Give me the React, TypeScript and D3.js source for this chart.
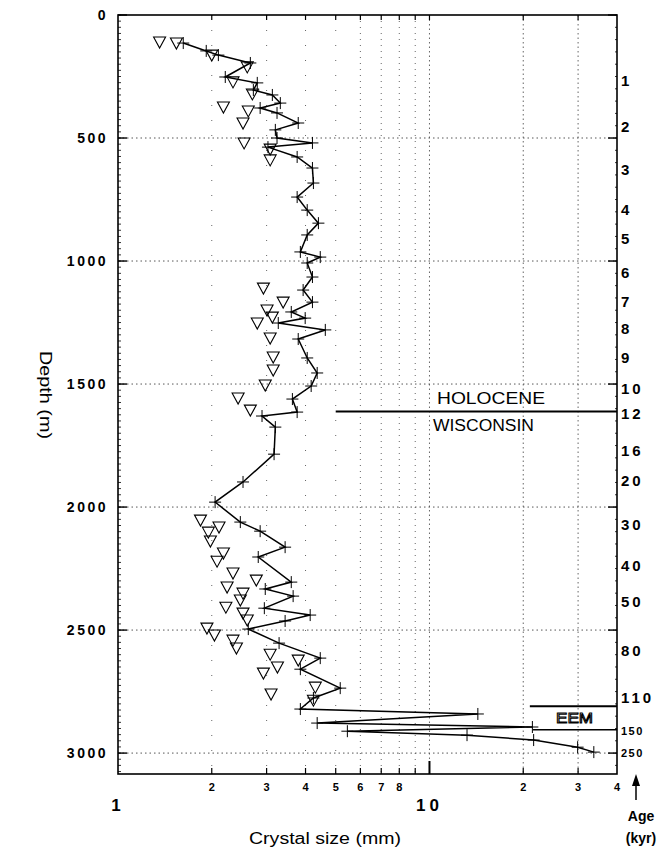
import React from 'react';
import * as d3 from 'd3';

// ---- data ----
const depthTicks = [0, 500, 1000, 1500, 2000, 2500, 3000];
const sizeGrid = [2, 3, 4, 5, 6, 7, 8, 9, 10, 20, 30];
const sizeSmallTicks = [2, 3, 4, 5, 6, 7, 8, 20, 30, 40];
const sizeSmallText = ['2', '3', '4', '5', '6', '7', '8', '2', '3', '4'];
const sizeBigTicks = [1, 10];
const sizeBigText = ['1', '10'];

const lineDepth = [114, 146, 163, 195, 252, 276, 305, 325, 358, 378, 398, 439, 467, 500, 520, 537, 577, 622, 683, 740, 793, 846, 894, 963, 984, 1008, 1065, 1118, 1167, 1207, 1232, 1252, 1280, 1317, 1394, 1455, 1508, 1561, 1614, 1630, 1675, 1785, 1898, 1980, 2061, 2098, 2163, 2203, 2305, 2333, 2362, 2411, 2439, 2463, 2496, 2553, 2614, 2659, 2736, 2776, 2821, 2841, 2878, 2894, 2911, 2927, 2947, 2976, 2996];
const lineSize = [1.62, 1.92, 2.10, 2.66, 2.21, 2.80, 2.72, 3.13, 3.32, 2.86, 3.24, 3.79, 3.20, 3.24, 4.21, 3.03, 3.76, 4.21, 4.24, 3.76, 4.05, 4.40, 4.05, 3.85, 4.46, 4.05, 4.21, 3.93, 4.21, 3.60, 3.99, 3.27, 4.63, 3.79, 4.05, 4.36, 4.17, 3.63, 3.76, 2.90, 3.20, 3.17, 2.52, 2.05, 2.47, 2.86, 3.44, 2.82, 3.60, 2.97, 3.65, 2.95, 4.14, 3.44, 2.62, 3.29, 4.46, 3.85, 5.17, 4.24, 3.85, 14.3, 4.36, 21.4, 5.45, 13.2, 21.6, 29.9, 33.7];

const triDepth = [110, 114, 163, 211, 272, 321, 374, 390, 439, 520, 545, 589, 1110, 1167, 1199, 1228, 1252, 1313, 1390, 1443, 1504, 1557, 1606, 2053, 2081, 2102, 2138, 2187, 2220, 2268, 2325, 2297, 2350, 2378, 2407, 2431, 2459, 2492, 2520, 2541, 2573, 2598, 2622, 2650, 2675, 2732, 2760, 2785];
const triSize = [1.36, 1.54, 2.00, 2.60, 2.34, 2.70, 2.18, 2.62, 2.52, 2.54, 3.08, 3.08, 2.93, 3.39, 3.01, 3.13, 2.80, 3.08, 3.15, 3.15, 2.97, 2.43, 2.66, 1.84, 2.11, 1.95, 1.98, 2.18, 2.08, 2.34, 2.24, 2.78, 2.52, 2.47, 2.22, 2.52, 2.60, 1.93, 2.04, 2.34, 2.40, 3.08, 3.79, 3.25, 2.93, 4.30, 3.10, 4.24];

const ageDepth = [268, 455, 630, 789, 907, 1045, 1163, 1276, 1394, 1520, 1622, 1772, 1894, 2073, 2236, 2386, 2585, 2776, 2911, 3000];
const ageText = ['1', '2', '3', '4', '5', '6', '7', '8', '9', '10', '12', '16', '20', '30', '40', '50', '80', '110', '150', '250'];

const boundaryDepth = [1612, 2810, 2905];
const boundaryFrom = [5, 21, 21.5];
const boundaryText = ['HOLOCENE', 'WISCONSIN', 'EEM'];

export default function App() {
  const W = 662, H = 852;
  const x = d3.scaleLog().domain([1, 40]).range([118, 617]);
  const y = d3.scaleLinear().domain([0, 3085]).range([15, 774]);
  const [x0, x1] = x.range();
  const [y0, y1] = y.range();

  const pts = lineDepth.map((d, i) => [lineSize[i], d] as [number, number]);
  const line = d3.line<[number, number]>().x(p => x(p[0])).y(p => y(p[1]));

  const font = "'Liberation Sans', Arial, Helvetica, sans-serif";
  const minorDepths = d3.range(0, 3085, 25);
  const rightMinor = d3.range(0, 3085, 50);

  return (
    <svg width={W} height={H} style={{ position: 'absolute', left: 0, top: 0, background: '#fff' }} fontFamily={font}>
      <rect width={W} height={H} fill="#fff" />
      {/* horizontal grid */}
      {depthTicks.slice(1).map(d => (
        <line key={'hg' + d} x1={x0} x2={x1} y1={y(d)} y2={y(d)} stroke="#444" strokeWidth={0.9} strokeDasharray="1.5,3" />
      ))}
      {/* vertical grid */}
      {sizeGrid.map(s => (
        <line key={'vg' + s} x1={x(s)} x2={x(s)} y1={y0} y2={y1} stroke="#555" strokeWidth={0.9}
          strokeDasharray={s <= 5 ? '1,14' : s < 10 ? '1,5' : '1.5,3'} />
      ))}
      {/* frame */}
      <rect x={x0} y={y0} width={x1 - x0} height={y1 - y0} fill="none" stroke="#000" strokeWidth={1.6} />
      {/* left minor ticks */}
      {minorDepths.map(d => (
        <line key={'lm' + d} x1={x0} x2={x0 + 3} y1={y(d)} y2={y(d)} stroke="#000" strokeWidth={0.8} />
      ))}
      {rightMinor.map(d => (
        <line key={'rm' + d} x1={x1} x2={x1 - 2} y1={y(d)} y2={y(d)} stroke="#000" strokeWidth={0.8} />
      ))}
      {/* major depth ticks */}
      {depthTicks.map(d => (
        <g key={'dt' + d}>
          <line x1={x0} x2={x0 + 9} y1={y(d)} y2={y(d)} stroke="#000" strokeWidth={1.4} />
          <line x1={x1} x2={x1 - 9} y1={y(d)} y2={y(d)} stroke="#000" strokeWidth={1.4} />
          <text x={x0 - 10} y={y(d)} dy="0.36em" textAnchor="end" fontSize={14} fontWeight="bold" letterSpacing={2.5}>{d}</text>
        </g>
      ))}
      {/* size ticks bottom/top */}
      {sizeGrid.map(s => (
        <g key={'st' + s}>
          <line x1={x(s)} x2={x(s)} y1={y1} y2={y1 - (s === 10 ? 13 : 6)} stroke="#000" strokeWidth={s === 10 ? 2 : 1.2} />
          <line x1={x(s)} x2={x(s)} y1={y0} y2={y0 + 5} stroke="#000" strokeWidth={1.2} />
        </g>
      ))}
      {sizeSmallTicks.map((s, i) => (
        <text key={'sl' + i} x={x(s)} y={791} textAnchor="middle" fontSize={11} fontWeight="bold">{sizeSmallText[i]}</text>
      ))}
      {sizeBigTicks.map((s, i) => (
        <text key={'bl' + i} x={x(s) - (s === 1 ? 2 : 0)} y={811} textAnchor="middle" fontSize={17} fontWeight="bold" letterSpacing={s === 10 ? 4 : 0}>{sizeBigText[i]}</text>
      ))}
      {/* age labels */}
      {ageText.map((t, i) => {
        const small = t === '150' || t === '250';
        return (
          <text key={'ag' + i} x={x1 + 4} y={y(ageDepth[i])} dy="0.36em" fontSize={small ? 11 : 15} fontWeight="bold" letterSpacing={small ? 1.5 : 3}>{t}</text>
        );
      })}
      {/* boundaries */}
      <line x1={x(boundaryFrom[0])} x2={x1} y1={y(boundaryDepth[0])} y2={y(boundaryDepth[0])} stroke="#000" strokeWidth={2} />
      <text x={437} y={y(boundaryDepth[0]) - 8} fontSize={16} textLength={108} lengthAdjust="spacingAndGlyphs">{boundaryText[0]}</text>
      <text x={433} y={y(boundaryDepth[0]) + 19} fontSize={16} textLength={101} lengthAdjust="spacingAndGlyphs">{boundaryText[1]}</text>
      <line x1={x(boundaryFrom[1])} x2={x1} y1={y(boundaryDepth[1])} y2={y(boundaryDepth[1])} stroke="#000" strokeWidth={2} />
      <line x1={x(boundaryFrom[2])} x2={x1} y1={y(boundaryDepth[2])} y2={y(boundaryDepth[2])} stroke="#000" strokeWidth={1.6} />
      <text x={556} y={723} fontSize={15} textLength={37} lengthAdjust="spacingAndGlyphs" fill="#fff" stroke="#000" strokeWidth={1}>{boundaryText[2]}</text>
      {/* data line */}
      <path d={line(pts) || ''} fill="none" stroke="#000" strokeWidth={1.5} />
      {pts.map((p, i) => (
        <g key={'pl' + i} stroke="#000" strokeWidth={1}>
          <line x1={x(p[0]) - 6} x2={x(p[0]) + 6} y1={y(p[1])} y2={y(p[1])} />
          <line x1={x(p[0])} x2={x(p[0])} y1={y(p[1]) - 6} y2={y(p[1]) + 6} />
        </g>
      ))}
      {/* triangles */}
      {triDepth.map((d, i) => {
        const cx = x(triSize[i]), cy = y(d);
        return (
          <path key={'tr' + i} d={`M${cx - 6},${cy - 5}L${cx + 6},${cy - 5}L${cx},${cy + 6}Z`} fill="#fff" fillOpacity={0} stroke="#000" strokeWidth={1.1} />
        );
      })}
      {/* axis titles */}
      <text transform="translate(40,395) rotate(90)" textAnchor="middle" fontSize={16} textLength={88} lengthAdjust="spacingAndGlyphs">Depth (m)</text>
      <text x={325} y={844} textAnchor="middle" fontSize={16} textLength={152} lengthAdjust="spacingAndGlyphs">Crystal size (mm)</text>
      <text x={641} y={821} textAnchor="middle" fontSize={14} fontWeight="bold">Age</text>
      <text x={641} y={843} textAnchor="middle" fontSize={14} fontWeight="bold">(kyr)</text>
      <line x1={636} x2={636} y1={800} y2={782} stroke="#000" strokeWidth={1.5} />
      <path d="M632,786L640,786L636,774Z" fill="#000" />
    </svg>
  );
}
